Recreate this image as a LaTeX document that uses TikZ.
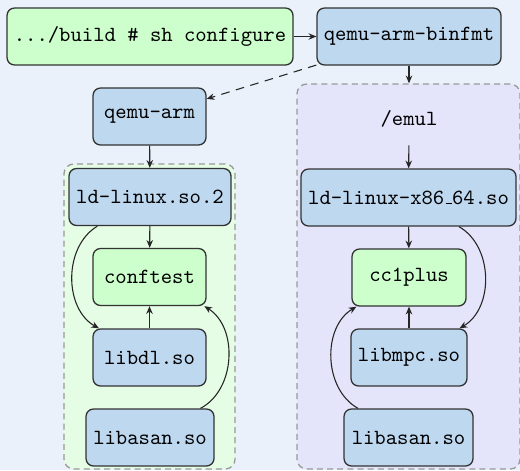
\documentclass[tikz,border=0pt]{standalone}
\usetikzlibrary{arrows.meta,calc}
\definecolor{bgblue}{RGB}{234,241,250}
\definecolor{boxblue}{RGB}{190,216,240}
\definecolor{boxgreen}{RGB}{204,255,204}
\definecolor{armzone}{RGB}{229,252,229}
\definecolor{emulzone}{RGB}{228,228,250}
\def\pxu{0.4626pt}
% short baseline rule used as underscore in file names
\newcommand\lowbar{\leavevmode\kern.06em\vbox{\hrule width .3em}}
\tikzset{
  box/.style={draw=black!80, line width=0.6pt, rounded corners=3.5pt,
    inner sep=0pt, minimum height=57*\pxu, font=\ttfamily},
  bluebox/.style={box, fill=boxblue},
  greenbox/.style={box, fill=boxgreen},
  wd/.style={minimum width=#1*\pxu},
  zone/.style={draw=black!40, line width=0.6pt, dash pattern=on 2.8pt off 1.9pt,
    rounded corners=4.5pt, inner sep=0pt},
  arr/.style={-{Stealth[length=3.6pt,width=3pt]}, line width=0.5pt, black!85},
}
\begin{document}
\begin{tikzpicture}[x=\pxu, y=-\pxu]
  \useasboundingbox (0,0) rectangle (520,470);
  \clip (0,0) rectangle (520,470);
  \fill[bgblue] (0,0) rectangle (520,470);

  % grouping panels
  \node[zone, fill=armzone, minimum width=171*\pxu, minimum height=305*\pxu] (lz) at (149.5,316.5) {};
  \node[zone, fill=emulzone, minimum width=223*\pxu, minimum height=385*\pxu] (rz) at (408.5,276.5) {};

  % top row
  \node[greenbox, wd=286] (cfg) at (150,36.5) {.../build \# sh configure};
  \node[bluebox, wd=184] (binfmt) at (409,36.5) {qemu-arm-binfmt};

  % ARM side
  \node[bluebox, wd=113] (qarm) at (149.5,116.5) {qemu-arm};
  \node[bluebox, wd=162] (ld2) at (150,197) {ld-linux.so.2};
  \node[greenbox, wd=113] (conf) at (149.5,277) {conftest};
  \node[bluebox, wd=113] (libdl) at (149.5,357.5) {libdl.so};
  \node[bluebox, wd=128] (asanl) at (150,437.5) {libasan.so};

  % emulated x86_64 side
  \node[font=\ttfamily, inner sep=0pt, minimum height=52*\pxu] (emul) at (409,119) {/emul};
  \node[bluebox, wd=215] (ld64) at (408.5,197.5) {ld-linux-x86\lowbar64.so};
  \node[greenbox, wd=114] (cc1) at (409,277.5) {cc1plus};
  \node[bluebox, wd=116] (mpc) at (409,357.5) {libmpc.so};
  \node[bluebox, wd=129] (asanr) at (408.5,437.5) {libasan.so};

  % connectors
  \draw[arr] (cfg) -- (binfmt);
  \draw[arr] (binfmt.south) -- (binfmt.south |- rz.north);
  \draw[arr, dashed, dash pattern=on 4pt off 3pt] (binfmt) -- (qarm);
  \draw[arr] (qarm) -- (ld2);
  \draw[arr] (ld2) -- (conf);
  \draw[arr] (libdl) -- (conf);
  \draw[arr] (ld2.209) to[bend right=60] (libdl.150);
  \draw[arr] (asanl.30) to[bend right=60] (conf.332);

  \draw[arr] (emul) -- (ld64);
  \draw[arr] (ld64) -- (cc1);
  \draw[arr] (mpc) -- (cc1);
  \draw[arr] (ld64.330) to[bend left=60] (mpc.30);
  \draw[arr] (asanr.150) to[bend left=60] (cc1.209);
\end{tikzpicture}
\end{document}
